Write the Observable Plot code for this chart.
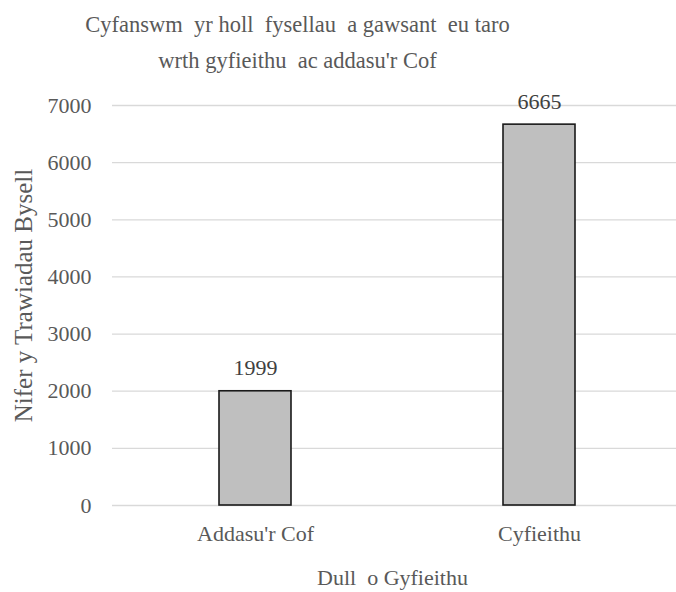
<!DOCTYPE html>
<html>
<head>
<meta charset="utf-8">
<script src="https://cdn.jsdelivr.net/npm/d3@7"></script>
<script src="https://cdn.jsdelivr.net/npm/@observablehq/plot@0.6"></script>
<style>
  html, body { margin: 0; padding: 0; background: #fff; }
  #chart svg, #chart svg text { font-family: "Liberation Serif", "Times New Roman", serif !important; }
</style>
</head>
<body>
<div id="chart"></div>
<script>
const titleLines = ["Cyfanswm  yr holl  fysellau  a gawsant  eu taro", "wrth gyfieithu  ac addasu'r Cof"];
const categories = ["Addasu'r Cof", "Cyfieithu"];
const counts = [1999, 6665];
const yTicks = [0, 1000, 2000, 3000, 4000, 5000, 6000, 7000];
const xLabel = "Dull  o Gyfieithu";
const yLabel = "Nifer y Trawiadau Bysell";

const data = categories.map((c, i) => ({method: c, count: counts[i]}));
const serif = "Liberation Serif";

const chart = Plot.plot({
  width: 676,
  height: 592,
  marginTop: 105,
  marginBottom: 87,
  marginLeft: 112,
  marginRight: 0,
  style: {fontFamily: serif, fontSize: "22px", color: "#595959", background: "#fff"},
  x: {domain: categories, range: [112, 682], paddingInner: 0.747, paddingOuter: 0.374, label: null},
  y: {domain: [0, 7000], label: null},
  marks: [
    Plot.ruleY(yTicks, {stroke: "#d9d9d9", strokeWidth: 1.3}),
    Plot.barY(data, {x: "method", y: "count", fill: "#bfbfbf", stroke: "#1a1a1a", strokeWidth: 1.6}),
    Plot.text(data, {x: "method", y: "count", text: d => String(d.count), lineAnchor: "bottom", dy: -16, fill: "#404040", fontSize: 22, fontFamily: serif}),
    Plot.axisY(yTicks, {tickSize: 0, tickPadding: 21, fontSize: 22, fontFamily: serif, label: null, tickFormat: d => String(d)}),
    Plot.axisX({tickSize: 0, tickPadding: 20, fontSize: 22, fontFamily: serif, label: null}),
    Plot.text([xLabel], {frameAnchor: "bottom", dx: -2, dy: 79, lineAnchor: "bottom", fill: "#595959", fontSize: 22, fontFamily: serif}),
    Plot.text([yLabel], {frameAnchor: "left", textAnchor: "middle", rotate: -90, dx: -81, dy: -10, lineAnchor: "bottom", fill: "#595959", fontSize: 25, fontFamily: serif}),
    Plot.text([titleLines[0]], {frameAnchor: "top", dx: -97, dy: -74, lineAnchor: "bottom", fill: "#595959", fontSize: 22.5, fontFamily: serif}),
    Plot.text([titleLines[1]], {frameAnchor: "top", dx: -97, dy: -38, lineAnchor: "bottom", fill: "#595959", fontSize: 22.5, fontFamily: serif})
  ]
});
document.getElementById("chart").appendChild(chart);
</script>
</body>
</html>
